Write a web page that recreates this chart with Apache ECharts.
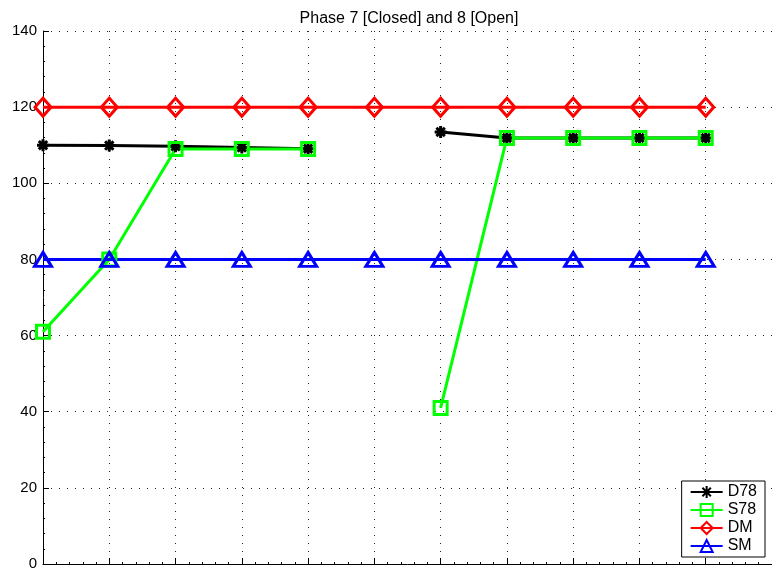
<!DOCTYPE html>
<html>
<head>
<meta charset="utf-8">
<script src="https://cdn.jsdelivr.net/npm/echarts@6/dist/echarts.min.js"></script>
<style>html,body{margin:0;padding:0;background:#fff;}#c{width:772px;height:574px;}</style>
</head>
<body>
<div id="c"></div>
<script>
const titleText = 'Phase 7 [Closed] and 8 [Open]';
const xValues = [1, 2, 3, 4, 5, 6, 7, 8, 9, 10, 11];
const d78 = [110, 109.9, 109.7, 109.4, 109.1, null, 113.5, 111.9, 111.9, 111.9, 111.9];
const s78 = [61, 80, 109, 109, 109, null, 41, 111.9, 111.9, 111.9, 111.9];
const dm  = [120, 120, 120, 120, 120, 120, 120, 120, 120, 120, 120];
const sm  = [80, 80, 80, 80, 80, 80, 80, 80, 80, 80, 80];
const yTicks = [0, 20, 40, 60, 80, 100, 120, 140];

const pairs = arr => xValues.map((x, i) => [x, arr[i]]);
const asterisk = 'path://M5,0L5,10M0,5L10,5M1.5,1.5L8.5,8.5M8.5,1.5L1.5,8.5';

const chart = echarts.init(document.getElementById('c'), null, {renderer: 'canvas'});
const font = 'Liberation Sans, Arial, sans-serif';
chart.setOption({
  animation: false,
  backgroundColor: '#fff',
  title: {
    text: titleText, left: 404, top: 6, textAlign: 'center',
    textStyle: {fontFamily: font, fontSize: 16, fontWeight: 'normal', color: '#000'}
  },
  grid: {left: 43, top: 31, right: 0, bottom: 10, containLabel: false},
  legend: {
    right: 7, bottom: 17, orient: 'vertical',
    backgroundColor: '#fff', borderColor: '#000', borderWidth: 1,
    padding: [3, 8, 3, 8], itemGap: 2, itemWidth: 32, itemHeight: 15,
    textStyle: {fontFamily: font, fontSize: 16, color: '#000'},
    data: ['D78', 'S78', 'DM', 'SM']
  },
  xAxis: {
    type: 'value', min: 1, max: 12, interval: 1,
    axisLine: {show: true, onZero: false, lineStyle: {color: '#000', width: 1}},
    axisTick: {show: true, inside: true, length: 6, lineStyle: {color: '#000'}},
    minorTick: {show: true, splitNumber: 5, length: 2, lineStyle: {color: '#000'}},
    axisLabel: {show: false},
    splitLine: {show: true, lineStyle: {color: '#222', type: [1, 7], width: 1}}
  },
  yAxis: {
    type: 'value', min: 0, max: 140, interval: 20,
    axisLine: {show: true, onZero: false, lineStyle: {color: '#000', width: 1}},
    axisTick: {show: true, inside: true, length: 6, lineStyle: {color: '#000'}},
    minorTick: {show: true, splitNumber: 5, length: 2, lineStyle: {color: '#000'}},
    axisLabel: {
      fontFamily: font, fontSize: 15, color: '#000', margin: 6,
      formatter: v => yTicks.includes(v) ? String(v) : ''
    },
    splitLine: {show: true, lineStyle: {color: '#222', type: [1, 7], width: 1}}
  },
  series: [
    {
      name: 'D78', type: 'line', data: pairs(d78), connectNulls: false,
      symbol: asterisk, symbolSize: 12,
      lineStyle: {color: '#000', width: 3},
      itemStyle: {color: '#000', borderColor: '#000', borderWidth: 3}
    },
    {
      name: 'S78', type: 'line', data: pairs(s78), connectNulls: false,
      symbol: 'rect', symbolSize: 13,
      lineStyle: {color: '#00ff00', width: 3},
      itemStyle: {color: 'rgba(255,255,255,0)', borderColor: '#00ff00', borderWidth: 3}
    },
    {
      name: 'DM', type: 'line', data: pairs(dm),
      symbol: 'diamond', symbolSize: [16, 18],
      lineStyle: {color: '#ff0000', width: 3},
      itemStyle: {color: 'rgba(255,255,255,0)', borderColor: '#ff0000', borderWidth: 3}
    },
    {
      name: 'SM', type: 'line', data: pairs(sm),
      symbol: 'triangle', symbolSize: [17, 14],
      lineStyle: {color: '#0000ff', width: 3},
      itemStyle: {color: 'rgba(255,255,255,0)', borderColor: '#0000ff', borderWidth: 3}
    }
  ]
});
</script>
</body>
</html>
